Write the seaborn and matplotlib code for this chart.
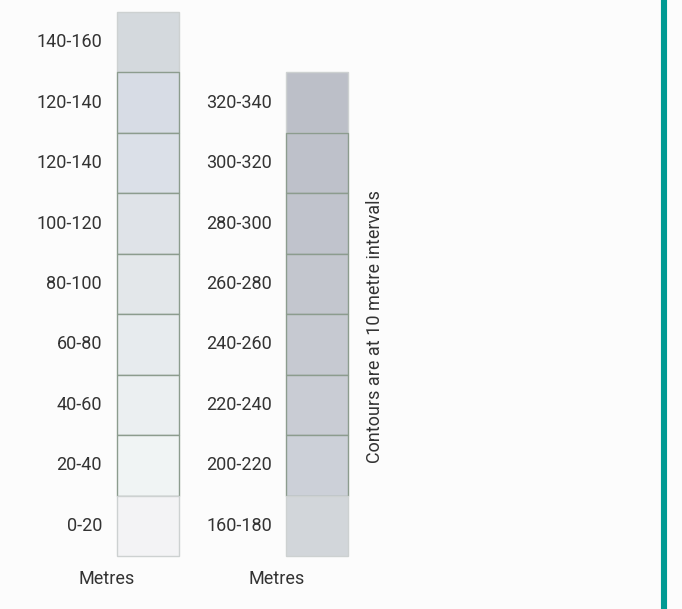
"""Elevation colour legend: two stacked swatch columns with range labels."""

import matplotlib.pyplot as plt
import seaborn as sns

# lower ground, top to bottom
LOW_LABELS = ["140-160", "120-140", "120-140", "100-120", "80-100",
              "60-80", "40-60", "20-40", "0-20"]
LOW_COLOURS = ["#d4d9dd", "#d7dce5", "#dbe0e8", "#dfe3e8", "#e3e7ea",
               "#e7ebee", "#ebeff1", "#f0f4f4", "#f3f3f5"]

# higher ground, top to bottom
HIGH_LABELS = ["320-340", "300-320", "280-300", "260-280", "240-260",
               "220-240", "200-220", "160-180"]
HIGH_COLOURS = ["#bcbfc8", "#bec1ca", "#c0c3cc", "#c3c6ce", "#c6c9d1",
                "#c9ccd4", "#ccd0d8", "#d2d6da"]

UNIT = "Metres"
NOTE = "Contours are at 10 metre intervals"

DARK_EDGE = "#8c9c8e"
LIGHT_EDGE = "#cdd1d1"
TEXT = "#333333"

sns.set_style("white")
plt.rcParams["font.family"] = ["Roboto", "DejaVu Sans"]

fig = plt.figure(figsize=(6.82, 6.09), dpi=100, facecolor="#fcfcfc")
ax = fig.add_axes([0, 0, 1, 1])
ax.set_facecolor("#fcfcfc")

row_px = 544 / 9
ax.set_xlim(0, 682)
ax.set_ylim(9 + 53 / row_px, -12 / row_px)
ax.axis("off")


def draw_column(labels, colours, x_left, label_x, unit_x, first_row):
    n = len(labels)
    for i, (lab, col) in enumerate(zip(labels, colours)):
        row = first_row + i
        edge = LIGHT_EDGE if i in (0, n - 1) else DARK_EDGE
        ax.bar(x_left, 1, width=62, bottom=row, align="edge",
               color=col, edgecolor=edge, linewidth=1.0)
        ax.text(label_x, row + 0.5, lab, ha="right", va="center",
                fontsize=13, color=TEXT)
    ax.text(unit_x, 9 + 23 / row_px, UNIT, ha="left", va="center",
            fontsize=13, color=TEXT)


draw_column(LOW_LABELS, LOW_COLOURS, 117, 102, 79, 0)
draw_column(HIGH_LABELS, HIGH_COLOURS, 286, 272, 248, 9 - len(HIGH_LABELS))

ax.text(375, (327 - 12) / row_px, NOTE, rotation=90, ha="center",
        va="center", fontsize=13, color=TEXT)

ax.axvline(664, color="#009a93", linewidth=4.4)

fig.savefig("out.png", dpi=100, facecolor=fig.get_facecolor())
